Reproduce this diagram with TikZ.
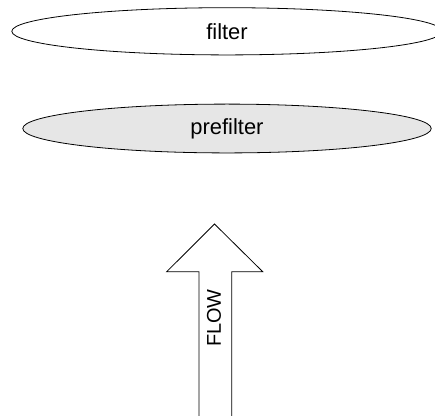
\documentclass[tikz,border=0pt]{standalone}
\usepackage{fontspec}
\setmainfont{Liberation Sans}
\usetikzlibrary{shapes.geometric}
\definecolor{prefill}{HTML}{E6E6E6}

\begin{document}
\begin{tikzpicture}[
    x=1bp, y=-1bp,
    line width=0.8pt,
    disc/.style={draw, shape=ellipse, inner sep=0pt, font=\fontsize{22}{26}\selectfont},
    flowtext/.style={rotate=90, font=\fontsize{20}{24}\selectfont}
]
    \useasboundingbox (0, 0) rectangle (435, 415);
    \clip (0, 0) rectangle (435, 415);

    % FILTER STAGES
    \node (filter) at (227, 31.3) [disc, minimum width=432, minimum height=47.4] {filter};
    \node (prefilter) at (227, 128.5) [disc, fill=prefill, minimum width=410, minimum height=49] {prefilter};

    % FLOW ARROW (open at the bottom)
    \coordinate (tip) at (214.5, 224);
    \draw (199, 420) -- (199, 271.7) -- (166.7, 271.7) -- (tip)
        -- (262.7, 271.7) -- (231.7, 271.7) -- (231.7, 420);
    \node (flow) at (214, 318) [flowtext] {FLOW};
\end{tikzpicture}
\end{document}
